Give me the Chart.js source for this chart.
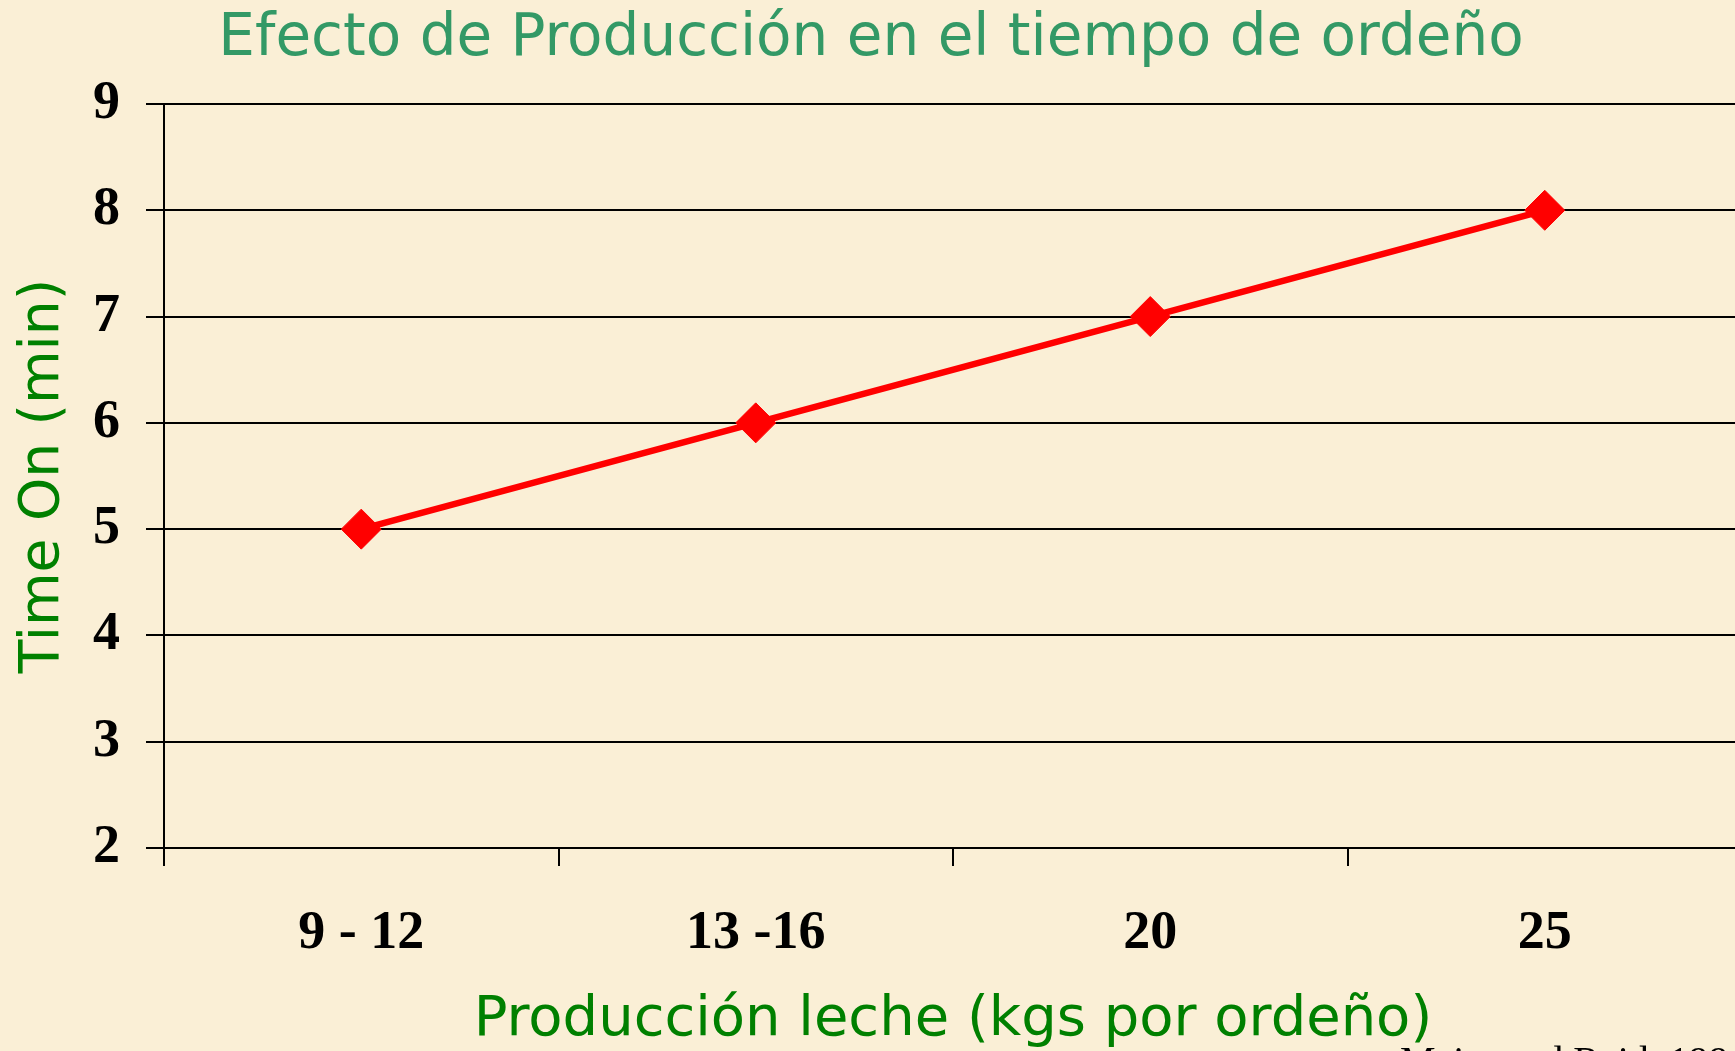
<!DOCTYPE html>
<html lang="es">
<head>
<meta charset="utf-8">
<title>Efecto de Producción en el tiempo de ordeño</title>
<script src="https://cdn.jsdelivr.net/npm/chart.js@4.4.1/dist/chart.umd.min.js"></script>
<style>
  html, body {
    margin: 0;
    padding: 0;
    width: 1735px;
    height: 1051px;
    overflow: hidden;
    background: #faefd6;
  }
  #wrap { position: relative; width: 1742px; height: 1051px; }
  #source {
    position: absolute;
    left: 1400px;
    top: 1041px;
    font: 40px/40px "Liberation Serif", serif;
    color: #000;
    white-space: nowrap;
  }
</style>
</head>
<body>
<div id="wrap">
  <canvas id="chart" width="1742" height="1051"></canvas>
  <div id="source">Meier and Reid, 199</div>
</div>
<script>
  // datos
  const categories = ["9 - 12", "13 -16", "20", "25"];
  const timeOn = [5, 6, 7, 8];
  const yMin = 2;
  const yMax = 9;

  const titleText = "Efecto de Producción en el tiempo de ordeño";
  const xTitle = "Producción leche (kgs por ordeño)";
  const yTitle = "Time On (min)";

  const serifBold = { family: "'Liberation Serif', 'Times New Roman', serif", size: 54, weight: "bold" };
  const sans = (size, lh) => ({ family: "'DejaVu Sans', Verdana, sans-serif", size, lineHeight: lh, weight: "normal" });

  const ctx = document.getElementById("chart").getContext("2d");

  new Chart(ctx, {
    type: "line",
    data: {
      labels: categories,
      datasets: [{
        data: timeOn,
        borderColor: "#ff0000",
        backgroundColor: "#ff0000",
        borderWidth: 6.5,
        tension: 0,
        pointStyle: "rectRot",
        pointRadius: 20,
        pointBorderWidth: 1,
        pointBackgroundColor: "#ff0000",
        pointBorderColor: "#ff0000",
      }],
    },
    options: {
      responsive: false,
      devicePixelRatio: 1,
      animation: false,
      layout: { padding: 0, autoPadding: false },
      plugins: {
        legend: { display: false },
        tooltip: { enabled: false },
        title: {
          display: true,
          text: titleText,
          color: "#339966",
          font: sans(58, 1.2),
          padding: { top: 5, bottom: 29.4 },
        },
      },
      scales: {
        x: {
          type: "category",
          offset: true,
          grid: {
            display: true,
            drawOnChartArea: false,
            drawTicks: true,
            tickLength: 18,
            offset: true,
            color: "#000",
            lineWidth: 2,
          },
          border: { display: true, color: "#000", width: 2 },
          ticks: { color: "#000", font: serifBold, padding: 36, maxRotation: 0 },
          title: {
            display: true,
            text: xTitle,
            color: "#008000",
            font: sans(56, 1),
            padding: { top: 0, bottom: 3 },
          },
          afterFit: (s) => {
            s.height = 203;
            s.paddingLeft = 0;
            s.paddingRight = 0;
          },
        },
        y: {
          min: yMin,
          max: yMax,
          grid: { color: "#000", lineWidth: 2, drawTicks: true, tickLength: 18 },
          border: { display: true, color: "#000", width: 2 },
          ticks: { stepSize: 1, color: "#000", font: serifBold, padding: 26 },
          title: {
            display: true,
            text: yTitle,
            color: "#008000",
            font: sans(55, 1),
            padding: { top: 16.5, bottom: 0 },
          },
          afterFit: (s) => { s.width = 164; },
        },
      },
    },
  });
</script>
</body>
</html>
